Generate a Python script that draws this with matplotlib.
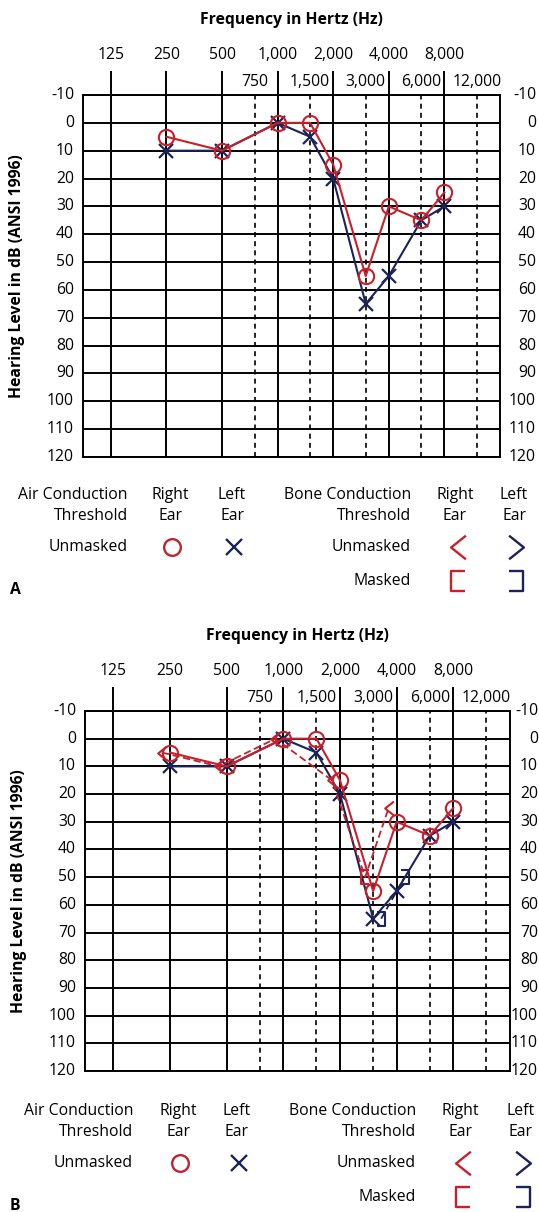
import numpy as np
import matplotlib
matplotlib.use('Agg')
import matplotlib.pyplot as plt
import matplotlib.transforms as mtransforms
from matplotlib.path import Path

plt.rcParams['font.family'] = ['Open Sans', 'DejaVu Sans']

RED = '#c8202a'
BLUE = '#1c2358'

# axis labels
octave_freqs = [125, 250, 500, 1000, 2000, 4000, 8000]
octave_labels = ['125', '250', '500', '1,000', '2,000', '4,000', '8,000']
mid_freqs = [750, 1500, 3000, 6000, 12000]
mid_labels = ['750', '1,500', '3,000', '6,000', '12,000']
db_ticks = list(range(-10, 121, 10))

# air conduction (both panels)
air_freqs = [250, 500, 1000, 1500, 2000, 3000, 4000, 6000, 8000]
air_right = [5, 10, 0, 0, 15, 55, 30, 35, 25]
air_left = [10, 10, 0, 5, 20, 65, 55, 35, 30]

# bone conduction (panel B)
bone_right_freqs = [250, 500, 1000, 2000, 3000, 4000]
bone_right = [5, 10, 0, 15, 50, 25]
bone_right_masked = [False, False, False, False, True, False]
bone_left_freqs = [3000, 4000]
bone_left = [65, 50]

M, L = Path.MOVETO, Path.LINETO
LT = Path([(0.5, 0.8), (-0.5, 0), (0.5, -0.8)], [M, L, L])
GT = Path([(-0.5, 0.8), (0.5, 0), (-0.5, -0.8)], [M, L, L])
LBR = Path([(0.5, 0.8), (-0.5, 0.8), (-0.5, -0.8), (0.5, -0.8)], [M, L, L, L])
RBR = Path([(-0.5, 0.8), (0.5, 0.8), (0.5, -0.8), (-0.5, -0.8)], [M, L, L, L])

W, H = 539, 1212
fig = plt.figure(figsize=(W / 100, H / 100), dpi=100)

# overlay in pixel coords for legend text
lax = fig.add_axes([0, 0, 1, 1])
lax.set_xlim(0, W)
lax.set_ylim(H, 0)
lax.axis('off')

FS = 11.3


def make_axes(left, right, top, bottom):
    return fig.add_axes([left / W, 1 - bottom / H, (right - left) / W, (bottom - top) / H])


def draw_grid(ax, px_w, px_h, rlab):
    ax.set_xscale('log', base=2)
    ax.set_xlim(125 / np.sqrt(2), 16000)
    ax.set_ylim(120, -10)
    ax.set_xticks([])
    ax.set_yticks([])
    ax.minorticks_off()
    for s in ax.spines.values():
        s.set_linewidth(1.4)
    for d in db_ticks:
        ax.axhline(d, color='black', lw=1.4, zorder=1)
    for f in octave_freqs:
        ax.axvline(f, color='black', lw=1.4, zorder=1)
    for f in mid_freqs:
        ax.axvline(f, color='black', lw=1.2, ls=(0, (3, 2.5)), zorder=1)
    tx = ax.get_xaxis_transform()
    ax.vlines(octave_freqs, 1, 1 + 24 / px_h, transform=tx, color='black', lw=1.4, clip_on=False)
    for f, lab in zip(octave_freqs, octave_labels):
        ax.text(f, 1 + 40 / px_h, lab, transform=tx, ha='center', va='center', fontsize=FS)
    for f, lab in zip(mid_freqs, mid_labels):
        ax.text(f, 1 + 13 / px_h, lab, transform=tx, ha='center', va='center', fontsize=FS)
    ty = ax.get_yaxis_transform()
    for d in db_ticks:
        ax.text(-9 / px_w, d, str(d), transform=ty, ha='right', va='center', fontsize=FS)
        ax.text(1 + rlab / px_w, d, str(d), transform=ty, ha='right', va='center', fontsize=FS)
    ax.text(0.5, 1 + 75 / px_h, 'Frequency in Hertz (Hz)', transform=ax.transAxes,
            ha='center', va='center', fontsize=FS, fontweight='bold')


def draw_air(ax):
    ax.plot(air_freqs, air_left, color=BLUE, lw=1.5, marker='x', ms=10, mew=1.6, zorder=3)
    ax.plot(air_freqs, air_right, color=RED, lw=1.5, marker='o', ms=11, mew=1.5,
            mfc='none', zorder=4)


def draw_bone(ax):
    off_l = mtransforms.offset_copy(ax.transData, fig=fig, x=-8, y=0, units='dots')
    off_r = mtransforms.offset_copy(ax.transData, fig=fig, x=8, y=0, units='dots')
    ax.plot(bone_right_freqs, bone_right, color=RED, lw=1.3, ls=(0, (4, 2)),
            transform=off_l, zorder=3)
    for f, v, m in zip(bone_right_freqs, bone_right, bone_right_masked):
        ax.plot([f], [v], color=RED, marker=LBR if m else LT, ms=10, mew=1.5,
                mfc='none', ls='none', transform=off_l, zorder=5)
    ax.plot(bone_left_freqs, bone_left, color=BLUE, lw=1.3, ls=(0, (4, 2)),
            transform=off_r, zorder=3)
    ax.plot(bone_left_freqs, bone_left, color=BLUE, marker=RBR, ms=10, mew=1.5,
            mfc='none', ls='none', transform=off_r, zorder=5)


def draw_legend(y0, xs, letter):
    ax_r, c1, c2, b_r, c3, c4 = xs
    y1, y2, y3, y4 = y0, y0 + 21, y0 + 52, y0 + 86
    kw = dict(fontsize=FS, va='center')
    lax.text(ax_r, y1, 'Air Conduction', ha='right', **kw)
    lax.text(ax_r, y2, 'Threshold', ha='right', **kw)
    lax.text(ax_r, y3, 'Unmasked', ha='right', **kw)
    lax.text(c1, y1, 'Right', ha='center', **kw)
    lax.text(c1, y2, 'Ear', ha='center', **kw)
    lax.text(c2, y1, 'Left', ha='center', **kw)
    lax.text(c2, y2, 'Ear', ha='center', **kw)
    lax.text(b_r, y1, 'Bone Conduction', ha='right', **kw)
    lax.text(b_r, y2, 'Threshold', ha='right', **kw)
    lax.text(b_r, y3, 'Unmasked', ha='right', **kw)
    lax.text(b_r, y4, 'Masked', ha='right', **kw)
    lax.text(c3, y1, 'Right', ha='center', **kw)
    lax.text(c3, y2, 'Ear', ha='center', **kw)
    lax.text(c4, y1, 'Left', ha='center', **kw)
    lax.text(c4, y2, 'Ear', ha='center', **kw)
    lax.plot([c1 + 2], [y3], marker='o', ms=12, mew=1.7, mfc='none', color=RED)
    lax.plot([c2 + 2], [y3], marker='x', ms=12, mew=1.7, color=BLUE)
    lax.plot([c3 + 3], [y3], marker=LT, ms=17, mew=1.7, mfc='none', color=RED)
    lax.plot([c4 + 2], [y3], marker=GT, ms=17, mew=1.7, mfc='none', color=BLUE)
    lax.plot([c3 + 3], [y4], marker=LBR, ms=15, mew=1.7, mfc='none', color=RED)
    lax.plot([c4 + 2], [y4], marker=RBR, ms=15, mew=1.7, mfc='none', color=BLUE)
    lax.text(10, y4 + 9, letter, ha='left', va='center', fontsize=FS, fontweight='bold')


# panel A
axA = make_axes(83, 500, 95, 457)
draw_grid(axA, 417, 362, 36)
draw_air(axA)
lax.text(17, 276, 'Hearing Level in dB (ANSI 1996)', rotation=90, ha='center', va='center',
         fontsize=FS, fontweight='bold')
draw_legend(495, (128, 170, 232, 411, 455, 514), 'A')

# panel B
axB = make_axes(85, 510, 711, 1071)
draw_grid(axB, 425, 360, 28)
draw_air(axB)
draw_bone(axB)
lax.text(19, 891, 'Hearing Level in dB (ANSI 1996)', rotation=90, ha='center', va='center',
         fontsize=FS, fontweight='bold')
draw_legend(1111, (133, 178, 237, 416, 460, 521), 'B')

fig.savefig('out.png', dpi=100)
